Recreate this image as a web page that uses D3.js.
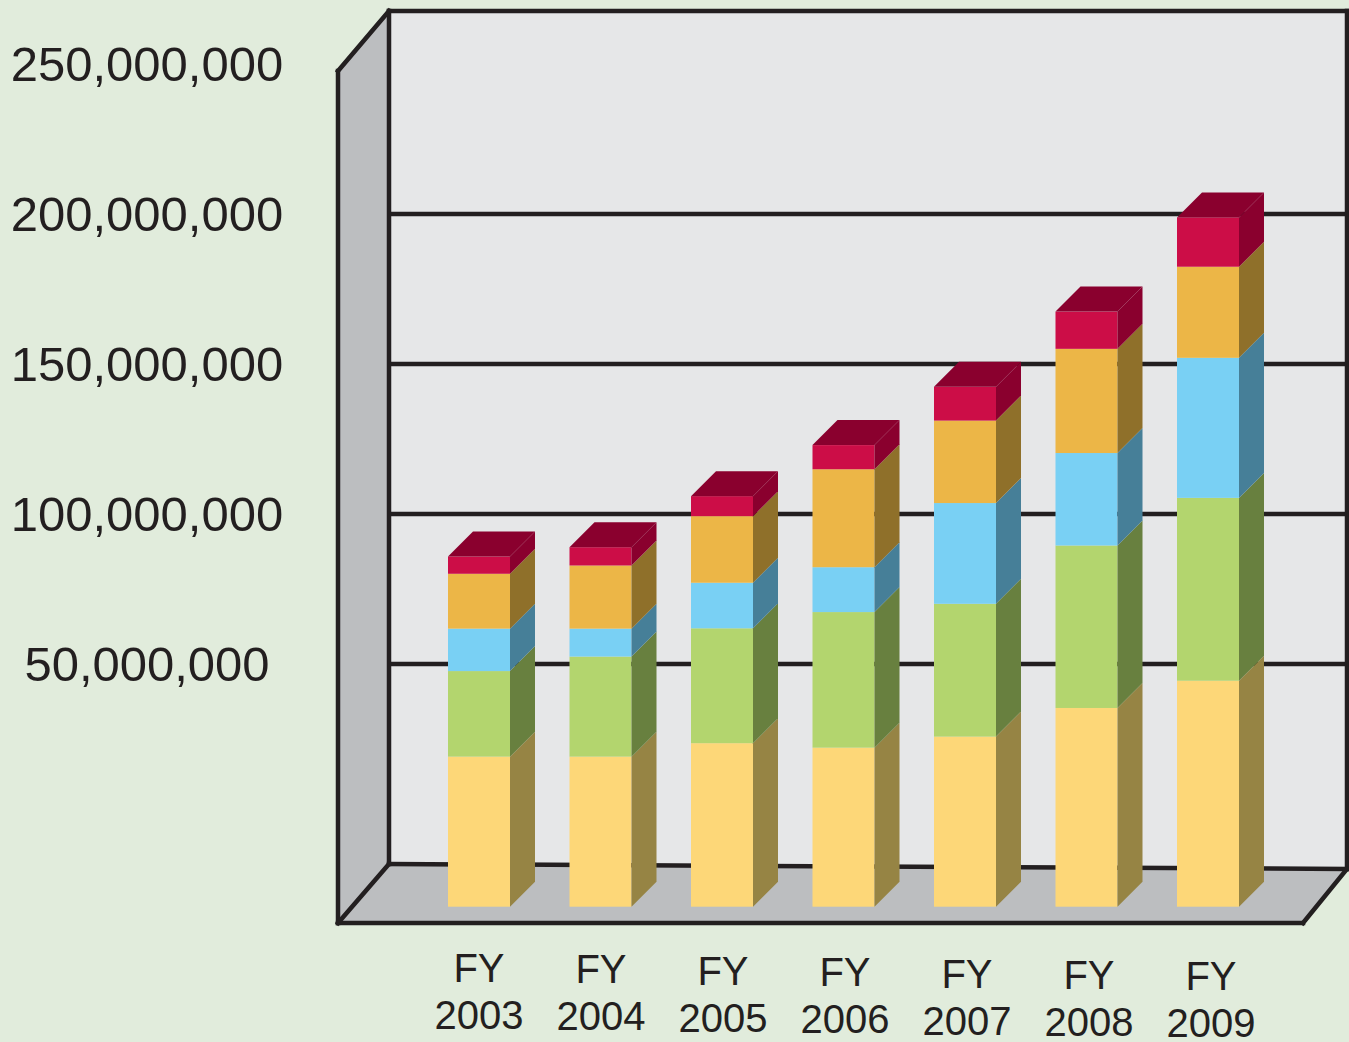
<!DOCTYPE html>
<html>
<head>
<meta charset="utf-8">
<script src="https://cdn.jsdelivr.net/npm/d3@7"></script>
<style>
  body { margin: 0; background: #e1ecdc; }
  svg { display: block; }
  text { font-family: "Liberation Sans", Arial, sans-serif; fill: #231f20; }
</style>
</head>
<body>
<svg id="chart"></svg>
<script>
// values in millions of dollars, bottom segment first
const years = ["2003", "2004", "2005", "2006", "2007", "2008", "2009"];
const seriesA = [43.5, 43.5, 47.4, 46.1, 49.3, 57.6, 65.5]; // yellow
const seriesB = [24.8, 29.0, 33.3, 39.3, 38.5, 47.1, 53.0]; // green
const seriesC = [12.3, 8.1, 13.2, 13.0, 29.2, 26.8, 40.6];  // blue
const seriesD = [15.9, 18.3, 19.3, 28.4, 23.9, 30.2, 26.4]; // orange
const seriesE = [5.0, 5.3, 5.8, 7.0, 9.8, 10.8, 14.3];      // red
const yTicks = [50, 100, 150, 200, 250];
const gridTicks = [50, 100, 150, 200];

const width = 1349, height = 1042;
const keys = ["a", "b", "c", "d", "e"];
const front = { a: "#fdd778", b: "#b3d56e", c: "#79d0f4", d: "#ecb647", e: "#cc0d47" };
const side = { a: "#968444", b: "#68803f", c: "#467f98", d: "#8f702a", e: "#8a002e" };
const topColor = "#8a002e";
const ink = "#231f20";

const table = years.map((y, i) => ({
  year: y, a: seriesA[i], b: seriesB[i], c: seriesC[i], d: seriesD[i], e: seriesE[i]
}));
const stacked = d3.stack().keys(keys)(table);

const svg = d3.select("#chart").attr("width", width).attr("height", height);

// back wall scale (gridlines + tick labels) and front scale for bar faces
const yBack = d3.scaleLinear().domain([0, 250]).range([814, 64]);
const y = d3.scaleLinear().domain([0, 250]).range([906.7, 44.2]);
const x = d3.scaleBand().domain(years).range([448, 1239]).paddingInner(0.4897).paddingOuter(0);
const bw = x.bandwidth();
const dx = 25, dy = -25; // bar depth

// frame: back wall, left wall, floor
const wall = { l: 389, r: 1347, t: 11, bl: 864, br: 869 };
const fr = { l: 338, t: 71, b: 923, r: 1303 };

svg.append("polygon")
  .attr("points", [[wall.l, wall.t], [wall.r, wall.t], [wall.r, wall.br], [wall.l, wall.bl]].join(" "))
  .attr("fill", "#e6e7e8");
svg.append("polygon")
  .attr("points", [[fr.l, fr.t], [wall.l, wall.t], [wall.l, wall.bl], [fr.l, fr.b]].join(" "))
  .attr("fill", "#bcbec0");
svg.append("polygon")
  .attr("points", [[fr.l, fr.b], [wall.l, wall.bl], [wall.r, wall.br], [fr.r, fr.b]].join(" "))
  .attr("fill", "#bcbec0");

// gridlines
svg.append("g").selectAll("line")
  .data(gridTicks)
  .join("line")
  .attr("x1", wall.l).attr("x2", wall.r)
  .attr("y1", d => yBack(d)).attr("y2", d => yBack(d))
  .attr("stroke", ink).attr("stroke-width", 4.3);

const edges = [
  [[wall.l, wall.t], [wall.r, wall.t]],
  [[wall.l, wall.t], [wall.l, wall.bl]],
  [[wall.r, wall.t], [wall.r, wall.br]],
  [[wall.l, wall.bl], [wall.r, wall.br]],
  [[fr.l, fr.t], [wall.l, wall.t]],
  [[fr.l, fr.t], [fr.l, fr.b]],
  [[fr.l, fr.b], [wall.l, wall.bl]],
  [[fr.l, fr.b], [fr.r, fr.b]],
  [[fr.r, fr.b], [wall.r, wall.br]]
];
svg.append("g").selectAll("path")
  .data(edges)
  .join("path")
  .attr("d", d => d3.line()(d))
  .attr("fill", "none")
  .attr("stroke", ink)
  .attr("stroke-width", 4.5)
  .attr("stroke-linecap", "square")
  .attr("stroke-linejoin", "miter");

// tick labels
svg.append("g").selectAll("text")
  .data(yTicks)
  .join("text")
  .attr("x", 147)
  .attr("y", d => yBack(d) + 17)
  .attr("text-anchor", "middle")
  .attr("font-size", 49)
  .text(d => d3.format(",")(d * 1e6));

// bars
const bars = svg.append("g");
stacked.forEach(layer => {
  const k = layer.key;
  layer.forEach((seg, i) => {
    const x0 = x(years[i]), x1 = x0 + bw;
    const y0 = y(seg[0]), y1 = y(seg[1]);
    bars.append("rect")
      .attr("x", x0).attr("y", y1)
      .attr("width", bw).attr("height", y0 - y1)
      .attr("fill", front[k]);
    bars.append("polygon")
      .attr("points", [[x1, y1], [x1 + dx, y1 + dy], [x1 + dx, y0 + dy], [x1, y0]].join(" "))
      .attr("fill", side[k]);
  });
});
const topLayer = stacked[stacked.length - 1];
topLayer.forEach((seg, i) => {
  const x0 = x(years[i]), x1 = x0 + bw, yt = y(seg[1]);
  bars.append("polygon")
    .attr("points", [[x0, yt], [x0 + dx, yt + dy], [x1 + dx, yt + dy], [x1, yt]].join(" "))
    .attr("fill", topColor);
});

// category labels
const labels = svg.append("g").attr("text-anchor", "middle").attr("font-size", 40);
years.forEach((yr, i) => {
  const cx = x(yr) + bw / 2 + 0.5 * i;
  const t = labels.append("text").attr("x", cx);
  t.append("tspan").attr("x", cx).attr("y", 982 + 1.4 * i).text("FY");
  t.append("tspan").attr("x", cx).attr("y", 1029 + 1.4 * i).text(yr);
});
</script>
</body>
</html>
